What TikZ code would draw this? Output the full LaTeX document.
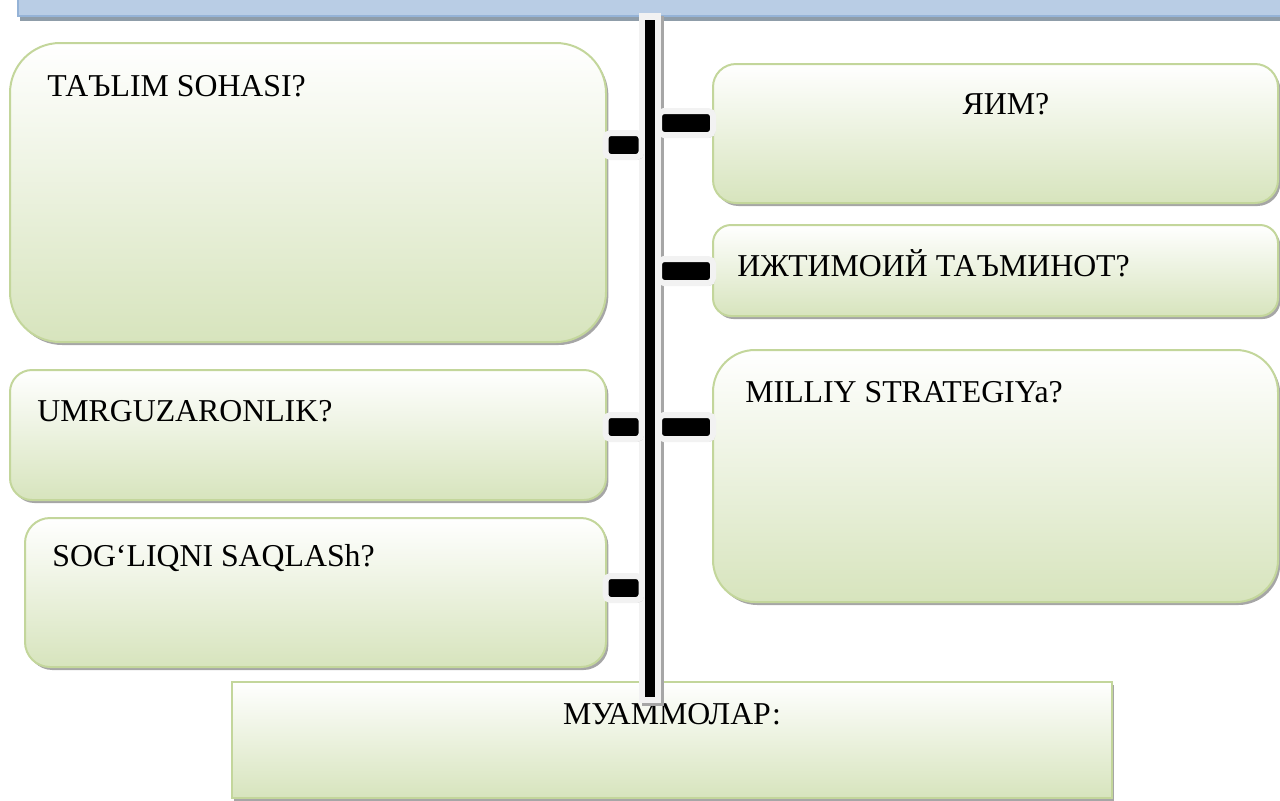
\documentclass[tikz,border=0pt]{standalone}
\usepackage{fontspec}
\setmainfont{Liberation Serif}
\usetikzlibrary{shadows}
\definecolor{boxline}{HTML}{C3D69B}
\definecolor{boxfill}{HTML}{D7E4BD}
\definecolor{barfill}{HTML}{B9CDE5}
\definecolor{barline}{HTML}{95B3D7}
\definecolor{barshade}{HTML}{8F9DA9}
\definecolor{shade}{HTML}{A6A6A6}
\definecolor{pale}{HTML}{F2F2F2}
\tikzset{
 box/.style={draw=boxline,line width=1pt,top color=white,bottom color=boxfill,inner sep=0pt,
  drop shadow={shadow xshift=1.2pt,shadow yshift=-1.5pt,fill=shade,opacity=1}},
 txt/.style={font=\fontsize{15.9}{19}\selectfont,inner sep=0pt},
 stub/.style={draw=pale,line width=3pt,fill=black,rounded corners=2.5pt,inner sep=0pt,minimum height=12pt,
  drop shadow={shadow xshift=1pt,shadow yshift=-1.2pt,fill=shade,opacity=1}},
 spineout/.style={draw=pale,line width=11pt},
 spinecore/.style={draw=black,line width=4.75pt,shorten <=3.5pt,shorten >=3pt}
}
\begin{document}
\begin{tikzpicture}[x=0.5pt,y=-0.5pt]
 \useasboundingbox (0,0) rectangle (1280,800);
 \clip (0,0) rectangle (1280,800);
 % header bar
 \node[draw=barline,line width=1pt,fill=barfill,minimum width=636pt,minimum height=13pt,inner sep=0pt,
  drop shadow={shadow xshift=1pt,shadow yshift=-2.5pt,fill=barshade,opacity=1}] (bar) at (654,3) {};
 % left column
 \node[box,rounded corners=25pt,minimum width=298pt,minimum height=149.5pt] (talim) at (308,192.5) {};
 \node[txt,anchor=base west] (talimT) at (47,96) {ТАЪLIM SOHASI?};
 \node[box,rounded corners=11pt,minimum width=298pt,minimum height=65pt] (umr) at (308,435) {};
 \node[txt,anchor=base west] (umrT) at (37,421) {UMRGUZARONLIK?};
 \node[box,rounded corners=12.5pt,minimum width=290.5pt,minimum height=74.5pt] (sog) at (315.5,592.5) {};
 \node[txt,anchor=base west] (sogT) at (52,566) {SOG‘LIQNI SAQLASh?};
 % right column
 \node[box,rounded corners=11.5pt,minimum width=282.5pt,minimum height=69.5pt] (yim) at (995.5,133.5) {};
 \node[txt,anchor=base] (yimT) at (1006,114) {ЯИМ?};
 \node[box,rounded corners=9pt,minimum width=282.5pt,minimum height=45.5pt] (ijt) at (995.5,270.5) {};
 \node[txt,anchor=base west] (ijtT) at (737,276) {ИЖТИМОИЙ ТАЪМИНОТ?};
 \node[box,rounded corners=21pt,minimum width=282.5pt,minimum height=126pt] (mil) at (995.5,476) {};
 \node[txt,anchor=base west] (milT) at (745,402) {MILLIY STRATEGIYa?};
 % bottom
 \node[box,minimum width=440pt,minimum height=58pt] (muam) at (672,740) {};
 \node[txt,anchor=base] (muamT) at (672,724) {МУАММОЛАР:};
 % spine
 \coordinate (spinetop) at (650,13);
 \coordinate (spinebot) at (650,703);
 \draw[spineout,draw=shade,transform canvas={xshift=1.5pt,yshift=-1.5pt}] (spinetop) -- (spinebot);
 \draw[spineout] (spinetop) -- (spinebot);
 % stubs
 \node[stub,minimum width=18pt] (talimS) at (623.5,145) {};
 \node[stub,minimum width=18pt] (umrS) at (623.5,427) {};
 \node[stub,minimum width=18pt] (sogS) at (623.5,588) {};
 \node[stub,minimum width=27pt] (yimS) at (686,123) {};
 \node[stub,minimum width=27pt] (ijtS) at (686,271) {};
 \node[stub,minimum width=27pt] (milS) at (686,427) {};
 \draw[spinecore] (spinetop) -- (spinebot);
\end{tikzpicture}
\end{document}
